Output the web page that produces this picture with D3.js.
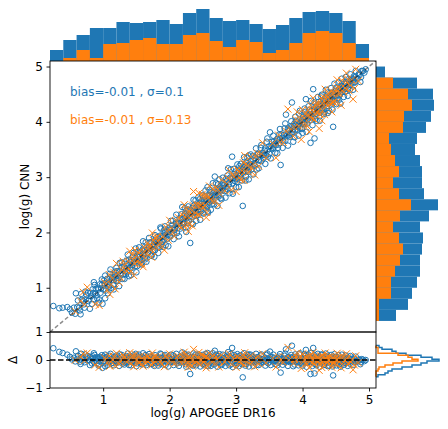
<!DOCTYPE html>
<html>
<head>
<meta charset="utf-8">
<script src="https://cdn.jsdelivr.net/npm/d3@7"></script>
<style>
  body { margin: 0; background: #fff; }
  svg { font-family: "DejaVu Sans", sans-serif; }
</style>
</head>
<body>
<div id="chart"></div>
<script>
// [APOGEE logg, delta] with delta = CNN - APOGEE
const bluePts = [
  [0.25,0.42],[0.34,0.29],[0.39,0.25],
  [0.46,0.19],[0.50,0.11],[0.53,0.02],[0.56,0.08],[0.58,-0.05],[0.59,0.31],
  [0.62,0.15],[0.64,0.00],[0.67,0.22],[0.70,0.06],[0.72,-0.08],[0.75,0.12],[0.78,-0.02],
  [0.81,0.10],[0.83,-0.12],[0.85,0.05],[0.87,0.18],[0.90,-0.04],[0.92,0.08],[0.94,-0.15],[0.97,0.02],[0.99,-0.28],
  [1.01,0.12],[1.03,-0.22],[1.05,0.04],[1.08,-0.06],[1.10,0.15],[1.13,0.01],[1.15,-0.10],[1.17,0.07],[1.19,-0.02],
  [1.21,0.09],[1.23,-0.05],[1.25,0.20],[1.27,0.00],[1.29,-0.13],[1.31,0.06],[1.33,-0.03],[1.35,0.14],[1.36,-0.08],[1.38,0.03],[1.39,-0.18],
  [1.41,0.05],[1.43,-0.07],[1.45,0.11],[1.47,-0.01],[1.49,0.22],[1.51,-0.12],[1.53,0.04],[1.55,-0.04],[1.56,0.09],[1.58,-0.16],[1.59,0.01],
  [1.61,0.07],[1.63,-0.09],[1.64,0.18],[1.66,0.02],[1.68,-0.05],[1.70,0.12],[1.72,-0.14],[1.74,0.00],[1.76,0.08],[1.77,-0.21],[1.79,0.04],
  [1.81,-0.03],[1.82,0.10],[1.84,-0.11],[1.86,0.05],[1.87,0.20],[1.89,-0.06],[1.91,0.01],[1.92,0.13],[1.94,-0.17],[1.96,0.06],[1.97,-0.02],[1.99,0.09],
  [2.01,-0.08],[2.03,0.04],[2.05,0.16],[2.07,-0.03],[2.09,0.08],[2.11,-0.12],[2.13,0.02],[2.15,0.11],[2.17,-0.06],[2.19,0.27],
  [2.21,-0.04],[2.22,0.07],[2.24,-0.15],[2.26,0.03],[2.27,0.14],[2.29,-0.08],[2.31,-0.50],[2.32,0.01],[2.34,0.10],[2.35,-0.20],[2.37,0.05],[2.38,-0.02],[2.39,0.19],
  [2.41,0.06],[2.42,-0.10],[2.44,0.02],[2.45,0.15],[2.47,-0.05],[2.48,0.09],[2.50,-0.14],[2.52,0.00],[2.53,0.12],[2.55,-0.07],[2.56,0.04],[2.58,-0.22],[2.59,0.08],[2.57,0.25],
  [2.61,-0.03],[2.63,0.10],[2.64,-0.12],[2.66,0.05],[2.68,0.33],[2.69,-0.06],[2.71,0.02],[2.73,0.14],[2.74,-0.09],[2.76,0.07],[2.78,-0.18],[2.79,0.01],
  [2.81,0.05],[2.83,-0.08],[2.85,0.12],[2.88,0.28],[2.89,-0.02],[2.91,0.08],[2.93,-0.15],[2.94,0.43],[2.96,0.03],[2.98,-0.05],[2.99,0.11],
  [3.01,-0.10],[3.03,0.04],[3.05,0.15],[3.06,-0.03],[3.08,0.07],[3.10,-0.62],[3.11,0.00],[3.13,0.10],[3.15,-0.14],[3.16,0.05],[3.18,-0.06],[3.19,0.20],
  [3.21,0.02],[3.23,-0.09],[3.25,0.13],[3.27,-0.02],[3.29,0.06],[3.31,-0.17],[3.33,0.09],[3.35,-0.05],[3.37,0.16],[3.39,0.01],
  [3.41,-0.07],[3.43,0.05],[3.46,0.18],[3.48,-0.11],[3.51,0.30],[3.53,0.00],[3.55,-0.04],[3.57,0.08],[3.59,-0.15],
  [3.61,0.04],[3.63,-0.10],[3.65,0.12],[3.67,-0.45],[3.69,0.02],[3.71,-0.06],[3.73,0.15],[3.75,0.38],[3.77,-0.02],[3.79,0.07],
  [3.81,-0.08],[3.82,0.10],[3.84,0.51],[3.85,-0.03],[3.87,0.05],[3.88,-0.16],[3.90,0.12],[3.92,0.00],[3.93,-0.07],[3.95,0.20],[3.97,0.03],[3.99,-0.12],
  [4.01,0.08],[4.02,-0.05],[4.04,0.14],[4.05,0.36],[4.07,-0.10],[4.08,0.02],[4.10,-0.02],[4.11,0.11],[4.12,-0.50],[4.14,-0.06],[4.16,0.43],[4.17,0.05],[4.18,-0.48],[4.19,-0.14],
  [4.21,0.06],[4.22,-0.03],[4.24,0.12],[4.25,-0.09],[4.27,0.01],[4.28,0.18],[4.30,-0.05],[4.31,0.07],[4.33,-0.16],[4.34,0.03],[4.36,0.10],[4.37,-0.08],[4.39,0.02],[4.38,-0.22],
  [4.41,0.05],[4.42,-0.06],[4.44,0.09],[4.46,-0.55],[4.45,-0.12],[4.47,0.02],[4.49,-0.03],[4.50,0.11],[4.52,-0.09],[4.53,0.04],[4.55,-0.15],[4.56,0.00],[4.58,0.07],[4.59,-0.05],
  [4.61,-0.02],[4.63,0.06],[4.64,-0.10],[4.66,0.03],[4.68,-0.06],[4.69,0.08],[4.71,-0.13],[4.73,0.01],[4.75,-0.04],[4.77,0.05],[4.79,-0.08],
  [4.82,-0.03],[4.85,0.02],[4.88,-0.07],[4.91,0.01],[4.95,0.00],
  [0.61,0.04],[0.65,-0.06],[0.68,0.10],[0.71,-0.01],[0.74,0.05],[0.77,0.14],[0.79,0.00],
  [0.82,0.03],[0.84,0.13],[0.86,-0.07],[0.88,0.02],[0.89,0.09],[0.91,-0.10],[0.93,0.04],[0.95,0.11],[0.96,-0.05],[0.98,0.07],
  [1.00,-0.03],[1.02,0.06],[1.04,-0.09],[1.06,0.10],[1.07,0.00],[1.09,-0.04],[1.11,0.08],[1.12,-0.12],[1.14,0.05],[1.16,-0.02],[1.18,0.11],[1.195,-0.07],
  [1.20,0.02],[1.22,-0.09],[1.24,0.06],[1.26,-0.02],[1.28,0.10],[1.30,-0.06],[1.32,0.03],[1.34,-0.10],[1.355,0.07],[1.37,-0.01],[1.385,0.12],
  [1.40,-0.04],[1.42,0.08],[1.44,-0.03],[1.46,0.05],[1.48,-0.09],[1.50,0.02],[1.52,0.13],[1.54,-0.06],[1.555,0.01],[1.57,0.06],[1.585,-0.08],[1.595,0.10],
  [1.60,-0.02],[1.62,0.05],[1.635,-0.12],[1.65,0.08],[1.67,-0.03],[1.69,0.04],[1.71,0.00],[1.73,0.09],[1.75,-0.07],[1.765,0.03],[1.78,-0.10],[1.795,0.06],
  [1.80,0.02],[1.815,-0.07],[1.83,0.05],[1.85,-0.01],[1.865,0.08],[1.88,-0.10],[1.90,0.04],[1.915,-0.04],[1.93,0.07],[1.95,0.00],[1.965,-0.08],[1.98,0.03],
  [2.00,0.05],[2.02,-0.02],[2.04,0.09],[2.06,-0.07],[2.08,0.01],[2.10,0.06],[2.12,-0.04],[2.14,0.03],[2.16,-0.09],[2.18,0.07],[2.195,-0.01],
  [2.20,0.04],[2.215,-0.06],[2.23,0.10],[2.25,0.00],[2.265,-0.09],[2.28,0.05],[2.30,-0.02],[2.315,0.08],[2.33,-0.05],[2.345,0.02],[2.36,0.12],[2.375,-0.07],[2.39,0.01],
  [2.40,-0.03],[2.415,0.04],[2.43,-0.06],[2.445,0.08],[2.46,0.00],[2.475,-0.09],[2.49,0.05],[2.505,-0.02],[2.52,0.07],[2.535,-0.04],[2.55,0.02],[2.565,-0.11],[2.58,0.03],[2.595,-0.05],
  [2.60,0.06],[2.62,-0.05],[2.635,0.02],[2.65,-0.08],[2.67,0.09],[2.685,0.00],[2.70,-0.03],[2.72,0.06],[2.735,-0.06],[2.75,0.03],[2.77,-0.01],[2.785,0.08],
  [2.80,-0.04],[2.82,0.03],[2.84,-0.02],[2.86,0.07],[2.87,-0.09],[2.90,0.01],[2.92,0.05],[2.95,-0.06],[2.97,0.09],[2.985,-0.01],
  [3.00,0.03],[3.02,-0.05],[3.04,0.08],[3.055,0.00],[3.07,-0.08],[3.09,0.04],[3.105,-0.02],[3.12,0.06],[3.14,-0.04],[3.155,0.11],[3.17,0.01],[3.185,-0.09],
  [3.20,-0.04],[3.22,0.07],[3.24,-0.01],[3.26,0.04],[3.28,-0.07],[3.30,0.02],[3.32,0.10],[3.34,-0.03],[3.36,0.05],[3.38,-0.09],
  [3.40,0.03],[3.42,-0.02],[3.44,0.08],[3.45,-0.05],[3.47,0.01],[3.49,0.06],[3.50,-0.08],[3.52,0.04],[3.54,0.10],[3.56,-0.03],[3.58,0.02],
  [3.60,-0.02],[3.62,0.07],[3.64,-0.05],[3.66,0.03],[3.68,0.09],[3.70,-0.03],[3.72,0.04],[3.74,-0.08],[3.76,0.01],[3.78,0.10],[3.795,-0.04],
  [3.80,0.04],[3.815,-0.02],[3.83,0.07],[3.845,-0.06],[3.86,0.01],[3.875,0.09],[3.89,-0.04],[3.905,0.03],[3.92,0.08],[3.935,-0.03],[3.95,0.02],[3.965,-0.09],[3.98,0.05],[3.995,0.00],
  [4.00,-0.02],[4.015,0.04],[4.03,-0.07],[4.045,0.02],[4.06,0.07],[4.075,-0.03],[4.09,0.05],[4.105,-0.08],[4.12,0.01],[4.135,0.06],[4.15,-0.01],[4.165,-0.09],[4.18,0.03],[4.195,0.08],
  [4.20,-0.05],[4.215,0.02],[4.23,-0.01],[4.245,0.07],[4.26,-0.04],[4.275,0.04],[4.29,-0.08],[4.305,0.01],[4.32,0.05],[4.335,-0.03],[4.35,0.00],[4.365,-0.11],[4.38,0.06],[4.395,-0.02],
  [4.40,0.01],[4.415,-0.03],[4.43,0.05],[4.445,-0.08],[4.46,0.03],[4.475,-0.01],[4.49,0.07],[4.505,-0.05],[4.52,0.00],[4.535,-0.10],[4.55,0.04],[4.565,-0.06],[4.58,0.01],[4.595,0.05],
  [4.60,-0.06],[4.62,0.01],[4.635,-0.04],[4.65,0.05],[4.67,-0.02],[4.685,-0.09],[4.70,0.02],[4.72,-0.05],[4.74,0.04],[4.76,-0.01],[4.78,-0.06],
  [4.80,0.01],[4.83,-0.05],[4.86,-0.01],[4.89,0.03],[4.93,-0.04],
  [0.66,-0.14],[0.73,0.20],[0.80,-0.18],[0.86,0.24],[0.93,-0.20],[0.98,0.17],
  [1.03,0.19],[1.07,-0.17],[1.11,0.22],[1.16,-0.19],[1.20,0.16],[1.24,-0.21],[1.28,0.18],[1.32,-0.16],[1.37,0.23],
  [1.42,-0.19],[1.46,0.17],[1.50,-0.22],[1.54,0.19],[1.57,-0.13],[1.60,0.24],[1.65,-0.18],[1.69,0.21],[1.73,-0.15],[1.78,0.17],
  [1.83,-0.20],[1.86,0.23],[1.90,-0.16],[1.93,0.18],[1.98,-0.23],[2.02,0.19],[2.06,-0.18],[2.10,0.22],[2.14,-0.21],[2.18,0.15],
  [2.23,0.21],[2.25,-0.24],[2.28,0.19],[2.33,-0.17],[2.36,0.23],[2.40,-0.19],[2.43,0.20],[2.46,-0.23],[2.49,0.18],[2.51,-0.17],[2.54,0.22],[2.57,-0.19],
  [2.60,0.17],[2.62,-0.21],[2.65,0.24],[2.67,-0.16],[2.70,0.19],[2.72,-0.24],[2.75,0.21],[2.77,-0.15],
  [2.80,0.19],[2.84,-0.21],[2.87,0.16],[2.90,-0.19],[2.92,0.22],[2.95,-0.25],[2.97,0.18],
  [3.00,-0.18],[3.02,0.21],[3.04,-0.22],[3.07,0.17],[3.09,-0.15],[3.12,0.24],[3.14,-0.20],[3.17,0.18],[3.19,-0.23],
  [3.22,0.19],[3.26,-0.21],[3.30,0.22],[3.34,-0.18],[3.38,0.20],[3.44,-0.20],[3.47,0.23],[3.52,-0.18],[3.56,0.19],
  [3.62,-0.19],[3.66,0.21],[3.70,-0.17],[3.74,0.23],[3.78,-0.21],[3.83,0.18],[3.86,-0.22],[3.89,0.20],[3.94,-0.19],[3.96,0.24],
  [4.00,-0.20],[4.03,0.21],[4.06,-0.24],[4.09,0.19],[4.13,0.25],[4.15,-0.21],[4.18,0.17],
  [4.21,-0.19],[4.23,0.22],[4.26,-0.24],[4.29,0.20],[4.32,-0.18],[4.35,0.23],[4.38,0.15],
  [4.40,-0.20],[4.43,0.18],[4.45,-0.23],[4.48,0.21],[4.51,-0.19],[4.54,0.17],[4.57,-0.24],[4.59,0.19],
  [4.62,-0.17],[4.65,0.16],[4.68,-0.21],[4.72,0.14],[4.76,-0.18],[4.80,0.12],[4.87,-0.15]
];

const orangePts = [
  [0.58,-0.01],
  [0.66,0.10],[0.72,-0.02],[0.76,0.25],
  [0.94,-0.26],
  [1.02,0.08],[1.06,-0.10],[1.09,0.15],[1.14,0.02],[1.18,-0.20],
  [1.22,0.05],[1.26,-0.08],[1.30,0.18],[1.34,-0.02],[1.38,0.10],
  [1.42,-0.12],[1.45,0.06],[1.48,0.20],[1.52,-0.04],[1.55,0.12],[1.58,-0.15],
  [1.61,0.03],[1.64,-0.10],[1.67,0.14],[1.70,0.00],[1.73,-0.18],[1.76,0.09],[1.79,-0.05],
  [1.82,0.11],[1.86,-0.07],[1.90,0.02],[1.94,0.16],[1.98,-0.12],
  [2.03,0.05],[2.07,-0.14],[2.11,0.09],[2.15,-0.03],[2.19,0.13],
  [2.21,-0.08],[2.24,0.18],[2.27,0.02],[2.30,-0.15],[2.33,0.07],[2.36,0.38],[2.39,-0.04],
  [2.41,0.10],[2.43,-0.11],[2.46,0.03],[2.49,0.20],[2.51,-0.06],[2.54,0.12],[2.56,-0.20],[2.59,0.05],
  [2.62,-0.02],[2.65,0.14],[2.69,-0.12],[2.72,0.06],[2.75,-0.05],[2.78,0.17],
  [2.83,-0.08],[2.88,0.10],[2.93,-0.16],[2.97,0.04],
  [3.02,0.12],[3.05,-0.06],[3.09,0.02],[3.12,-0.18],[3.15,0.09],[3.19,-0.10],
  [3.22,0.15],[3.26,-0.03],[3.30,0.07],[3.34,-0.14],[3.38,0.04],
  [3.45,-0.10],[3.55,0.06],
  [3.64,0.12],[3.71,-0.08],[3.78,0.45],
  [3.82,0.05],[3.86,-0.12],[3.90,0.14],[3.94,-0.02],[3.98,-0.30],
  [4.01,-0.06],[4.04,0.10],[4.07,-0.15],[4.09,0.03],[4.12,0.18],[4.15,-0.09],[4.17,0.01],[4.19,0.12],
  [4.21,-0.04],[4.23,0.08],[4.25,-0.37],[4.26,-0.13],[4.28,0.15],[4.31,0.00],[4.33,-0.20],[4.35,0.06],[4.37,-0.07],[4.39,0.11],
  [4.41,-0.02],[4.43,0.13],[4.46,-0.10],[4.48,0.04],[4.51,-0.16],[4.54,0.08],[4.56,-0.05],[4.59,0.16],
  [4.62,-0.08],[4.66,0.05],[4.70,-0.14],[4.74,0.02],[4.76,-0.35],[4.78,-0.18],
  [4.84,-0.10],
  [1.04,0.03],[1.12,-0.06],[1.16,0.12],[1.24,-0.14],[1.28,0.04],[1.32,0.09],[1.36,-0.06],[1.44,0.15],[1.47,-0.03],
  [1.50,0.08],[1.54,-0.10],[1.57,0.02],[1.62,0.11],[1.66,-0.04],[1.69,0.07],[1.72,0.03],[1.75,-0.10],[1.78,0.12],
  [1.84,0.02],[1.88,-0.15],[1.96,0.06],[2.05,-0.05],[2.13,0.14],[2.17,-0.09],[2.23,0.05],[2.26,-0.12],[2.29,0.10],
  [2.32,-0.02],[2.35,0.14],[2.38,-0.10],[2.42,0.06],[2.45,-0.14],[2.48,0.01],[2.50,0.15],[2.53,-0.04],[2.57,0.09],
  [2.64,-0.08],[2.70,0.11],[2.86,0.02],[2.95,0.08],[3.04,0.06],[3.07,-0.12],[3.11,0.15],[3.14,-0.03],[3.17,0.04],
  [3.24,-0.08],[3.32,0.11],[3.66,-0.03],[3.75,0.08],[3.88,0.02],[3.96,0.10],[4.02,0.05],[4.05,-0.10],[4.08,0.13],
  [4.11,-0.03],[4.14,0.07],[4.18,-0.14],[4.22,0.10],[4.24,-0.06],[4.27,0.03],[4.30,-0.10],[4.32,0.12],[4.36,-0.02],
  [4.38,0.07],[4.42,-0.09],[4.45,0.05],[4.47,-0.12],[4.50,0.10],[4.53,-0.02],[4.57,0.03],[4.64,-0.03],[4.68,0.09],[4.72,-0.06],
  [0.70,0.22],[0.88,-0.18],[1.10,-0.22],[1.20,0.24],[1.40,0.26],[1.46,-0.24],[1.60,-0.22],[1.74,0.25],[1.92,-0.24],
  [2.00,0.22],[2.22,0.28],[2.28,-0.26],[2.34,-0.22],[2.44,0.27],[2.55,-0.28],[2.60,0.24],[2.74,-0.25],[2.90,0.22],
  [3.00,-0.26],[3.13,0.26],[3.28,-0.24],[3.40,0.22],[3.60,-0.25],[3.92,0.26],[4.00,0.22],[4.10,-0.28],[4.16,0.27],
  [4.29,-0.27],[4.34,0.25],[4.44,-0.26],[4.52,0.24],[4.58,-0.28],[4.66,0.22],[4.80,0.15]
];

// histogram of APOGEE logg (bins of 0.2 from 0.2 to 5.0)
const binStart = 0.2, binWidth = 0.2;
const topHistBlue   = [11,21,26,33,33,39,38,39,41,37,48,52,43,40,41,37,32,36,43,49,50,48,40,17];
const topHistOrange = [0,3,11,3,17,18,21,23,17,17,26,28,20,14,21,19,8,11,18,28,30,28,18,3];
// histogram of CNN logg (same bins)
const rightHistBlue   = [0,20,32,36,41,44,44,46,47,44,53,62,48,46,46,44,39,41,50,55,58,57,41,9];
const rightHistOrange = [0,3,3,15,15,19,24,27,23,17,24,35,23,17,23,19,15,13,27,28,36,32,17,0];
// histogram of residuals
const resStart = -0.60, resWidth = 0.07;
const resHistBlue   = [2,9,12,16,26,36,45,51,63,56,45,30,20,16,6,3];
const resHistOrange = [0,0,0,2,3,9,17,26,42,36,32,22,2,2,2,0];

const labelBlue = "bias=-0.01 , σ=0.1";
const labelOrange = "bias=-0.01 , σ=0.13";

const W = 448, H = 429;
const BLUE = "#1f77b4", ORANGE = "#ff7f0e";
const L = 50, R = 376, T = 61, MB = 332, RB = 388;

const svg = d3.select("#chart").append("svg")
  .attr("width", W).attr("height", H);

const x = d3.scaleLinear().domain([0.2, 5.105]).range([L, R]);
const y = d3.scaleLinear().domain([0.2, 5.1]).range([MB, T]);
const yr = d3.scaleLinear().domain([-1, 1]).range([RB, MB]);

// top histogram
const hTop = d3.scaleLinear().domain([0, 55]).range([T, T - 55]);
function drawTop(counts, color) {
  svg.append("g").selectAll("rect").data(counts).join("rect")
    .attr("x", (d, i) => x(binStart + i * binWidth))
    .attr("width", (d, i) => x(binStart + (i + 1) * binWidth) - x(binStart + i * binWidth))
    .attr("y", d => hTop(d))
    .attr("height", d => T - hTop(d))
    .attr("fill", color);
}
drawTop(topHistBlue, BLUE);
drawTop(topHistOrange, ORANGE);

// right histogram
const hRight = d3.scaleLinear().domain([0, 65]).range([R, R + 65]);
function drawRight(counts, color) {
  svg.append("g").selectAll("rect").data(counts).join("rect")
    .attr("x", R)
    .attr("y", (d, i) => y(binStart + (i + 1) * binWidth))
    .attr("height", (d, i) => y(binStart + i * binWidth) - y(binStart + (i + 1) * binWidth))
    .attr("width", d => hRight(d) - R)
    .attr("fill", color);
}
drawRight(rightHistBlue, BLUE);
drawRight(rightHistOrange, ORANGE);

// residual step histogram
const hRes = d3.scaleLinear().domain([0, 64]).range([R, R + 64]);
function drawStep(counts, color) {
  const pts = [[0, resStart]];
  counts.forEach((c, i) => {
    pts.push([c, resStart + i * resWidth]);
    pts.push([c, resStart + (i + 1) * resWidth]);
  });
  pts.push([0, resStart + counts.length * resWidth]);
  svg.append("path")
    .attr("d", d3.line().x(p => hRes(p[0])).y(p => yr(p[1]))(pts))
    .attr("fill", "none").attr("stroke", color).attr("stroke-width", 1.5);
}
drawStep(resHistBlue, BLUE);
drawStep(resHistOrange, ORANGE);

// clip paths for the two panels
const defs = svg.append("defs");
defs.append("clipPath").attr("id", "clipMain").append("rect")
  .attr("x", L).attr("y", T).attr("width", R - L).attr("height", MB - T);
defs.append("clipPath").attr("id", "clipRes").append("rect")
  .attr("x", L).attr("y", MB).attr("width", R - L).attr("height", RB - MB);

const main = svg.append("g").attr("clip-path", "url(#clipMain)");
const res = svg.append("g").attr("clip-path", "url(#clipRes)");

function circles(g, data, yf) {
  g.append("g").selectAll("circle").data(data).join("circle")
    .attr("cx", d => x(d[0])).attr("cy", yf)
    .attr("r", 2.8).attr("fill", "none")
    .attr("stroke", BLUE).attr("stroke-width", 1);
}
function crosses(g, data, yf) {
  const s = 3.5;
  g.append("g").selectAll("path").data(data).join("path")
    .attr("d", d => {
      const cx = x(d[0]), cy = yf(d);
      return `M${cx - s},${cy - s}L${cx + s},${cy + s}M${cx - s},${cy + s}L${cx + s},${cy - s}`;
    })
    .attr("stroke", ORANGE).attr("stroke-width", 1).attr("fill", "none");
}

circles(main, bluePts, d => y(d[0] + d[1]));
crosses(main, orangePts, d => y(d[0] + d[1]));
circles(res, bluePts, d => yr(d[1]));
crosses(res, orangePts, d => yr(d[1]));

// one-to-one line and zero line
main.append("line")
  .attr("x1", x(0.2)).attr("y1", y(0.2)).attr("x2", x(5.2)).attr("y2", y(5.2))
  .attr("stroke", "#000").attr("stroke-opacity", 0.45)
  .attr("stroke-width", 1.5).attr("stroke-dasharray", "4,2.5");
res.append("line")
  .attr("x1", L).attr("x2", R).attr("y1", yr(0)).attr("y2", yr(0))
  .attr("stroke", "#000").attr("stroke-opacity", 0.75)
  .attr("stroke-width", 2).attr("stroke-dasharray", "5.5,2.5");

// frames
[[T, MB], [MB, RB]].forEach(([a, b]) => {
  svg.append("rect").attr("x", L).attr("y", a)
    .attr("width", R - L).attr("height", b - a)
    .attr("fill", "none").attr("stroke", "#000").attr("stroke-width", 0.9);
});

// axes
function styleAxis(g) {
  g.select(".domain").remove();
  g.selectAll(".tick line").attr("stroke", "#000").attr("stroke-width", 0.9);
  g.selectAll(".tick text").attr("font-size", 12).attr("fill", "#000")
    .attr("font-family", "DejaVu Sans");
}
svg.append("g").attr("transform", `translate(${L},0)`)
  .call(d3.axisLeft(y).tickValues([1, 2, 3, 4, 5]).tickSize(3.5).tickPadding(3.5).tickFormat(d3.format("d")))
  .call(styleAxis);
svg.append("g").attr("transform", `translate(${L},0)`)
  .call(d3.axisLeft(yr).tickValues([-1, 0, 1]).tickSize(3.5).tickPadding(3.5).tickFormat(d3.format("d")))
  .call(styleAxis);
svg.append("g").attr("transform", `translate(0,${RB})`)
  .call(d3.axisBottom(x).tickValues([1, 2, 3, 4, 5]).tickSize(3.5).tickPadding(3.5).tickFormat(d3.format("d")))
  .call(styleAxis);

// labels
svg.append("text").attr("transform", `translate(29,${(T + MB) / 2}) rotate(-90)`)
  .attr("text-anchor", "middle").attr("font-size", 12).text("log(g) CNN");
svg.append("text").attr("transform", `translate(17,${yr(0)}) rotate(-90)`)
  .attr("text-anchor", "middle").attr("font-size", 12).text("Δ");
svg.append("text").attr("x", (L + R) / 2).attr("y", 417)
  .attr("text-anchor", "middle").attr("font-size", 12).text("log(g) APOGEE DR16");

svg.append("text").attr("x", 70).attr("y", 96).attr("font-size", 12)
  .attr("fill", BLUE).text(labelBlue);
svg.append("text").attr("x", 70).attr("y", 124).attr("font-size", 12)
  .attr("fill", ORANGE).text(labelOrange);
</script>
</body>
</html>
